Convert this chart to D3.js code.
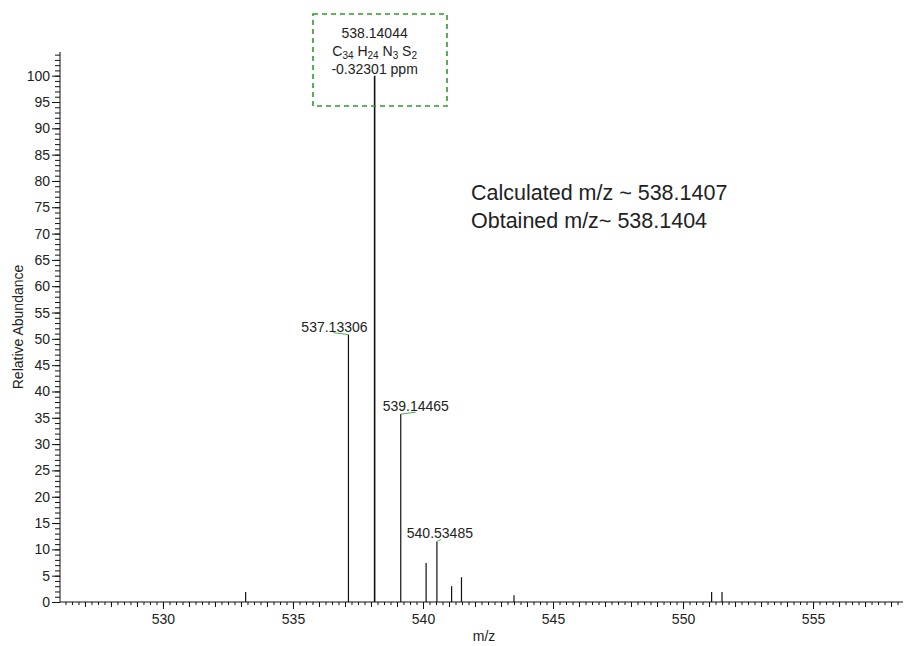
<!DOCTYPE html>
<html>
<head>
<meta charset="utf-8">
<script src="https://cdn.jsdelivr.net/npm/d3@7"></script>
<style>
  body { margin: 0; background: #fff; }
  text { font-family: "Liberation Sans", Arial, sans-serif; fill: #222; }
</style>
</head>
<body>
<div id="chart"></div>
<script>
// peak list
const mzValues = [533.18, 537.133, 538.14, 539.145, 540.12, 540.535, 541.10, 541.48, 543.50, 551.10, 551.50];
const abundance = [1.9, 50.8, 100, 35.7, 7.4, 11.5, 3.0, 4.7, 1.3, 1.9, 1.9];

// labelled peaks
const labelMz = [537.133, 539.145, 540.535];
const labelText = ["537.13306", "539.14465", "540.53485"];
const labelAb = [50.8, 35.7, 11.5];

const xTicks = [530, 535, 540, 545, 550, 555];
const yTicks = d3.range(0, 101, 5);

const width = 904, height = 646;
const svg = d3.select("#chart").append("svg")
  .attr("width", width)
  .attr("height", height);

const x = d3.scaleLinear().domain([526.04, 558.46]).range([60, 903]);
const y = d3.scaleLinear().domain([0, 104.5]).range([602, 52]);

// y axis: minor every 1, major every 5
svg.append("g").attr("transform", "translate(60,0)")
  .call(d3.axisLeft(y).tickValues(d3.range(0, 105, 1)).tickSize(5).tickFormat(""))
  .call(g => g.select(".domain").attr("d", `M0,${y(0)}V52`));
svg.append("g").attr("transform", "translate(60,0)")
  .call(d3.axisLeft(y).tickValues(yTicks).tickSize(8).tickPadding(2))
  .attr("font-size", 14)
  .call(g => g.select(".domain").remove())
  .call(g => g.selectAll("text").attr("fill", "#222"));

// x axis: minor every 0.25, medium every 1, labels every 5
svg.append("g").attr("transform", `translate(0,${y(0)})`)
  .call(d3.axisBottom(x).tickValues(d3.range(526.25, 558.46, 0.25)).tickSize(3).tickFormat(""))
  .call(g => g.select(".domain").attr("d", `M60,0H903`));
svg.append("g").attr("transform", `translate(0,${y(0)})`)
  .call(d3.axisBottom(x).tickValues(d3.range(527, 559, 1)).tickSize(5).tickFormat(""))
  .call(g => g.select(".domain").remove());
svg.append("g").attr("transform", `translate(0,${y(0)})`)
  .call(d3.axisBottom(x).tickValues(xTicks).tickSize(7).tickPadding(5).tickFormat(d3.format("d")))
  .attr("font-size", 14)
  .call(g => g.select(".domain").remove())
  .call(g => g.selectAll("text").attr("fill", "#222"));

svg.selectAll(".tick line, .domain").attr("stroke", "#111");

// sticks
svg.selectAll(".peak")
  .data(mzValues.map((m, i) => ({ m, a: abundance[i] })))
  .join("line")
  .attr("class", "peak")
  .attr("x1", d => x(d.m)).attr("x2", d => x(d.m))
  .attr("y1", y(0)).attr("y2", d => y(d.a))
  .attr("stroke", "#111")
  .attr("stroke-width", d => d.a === 100 ? 1.6 : 1.2);

// peak labels with little green leader
const labelDx = [-14, 15, 3];
const leadDx = [-15, 15, 4];
labelMz.forEach((m, i) => {
  const px = x(m), py = y(labelAb[i]);
  svg.append("path")
    .attr("d", `M${px},${py}L${px + leadDx[i]},${py - 2}`)
    .attr("stroke", "#4caf50").attr("fill", "none").attr("stroke-width", 1);
  svg.append("text")
    .attr("x", px + labelDx[i]).attr("y", py - 3)
    .attr("text-anchor", "middle")
    .attr("font-size", 14)
    .text(labelText[i]);
});

// base peak annotation box
svg.append("rect")
  .attr("x", 313).attr("y", 14).attr("width", 134).attr("height", 92)
  .attr("fill", "none").attr("stroke", "#2e9b2e")
  .attr("stroke-width", 1.6).attr("stroke-dasharray", "5,4");

const cx = x(538.14);
svg.append("text").attr("x", cx).attr("y", 38).attr("text-anchor", "middle")
  .attr("font-size", 14).text("538.14044");
const formula = svg.append("text").attr("x", cx).attr("y", 56).attr("text-anchor", "middle")
  .attr("font-size", 14);
[["C", "34"], ["H", "24"], ["N", "3"], ["S", "2"]].forEach(([el, n], i) => {
  formula.append("tspan").attr("dy", i === 0 ? 0 : -3).text((i === 0 ? "" : " ") + el);
  formula.append("tspan").attr("dy", 3).attr("font-size", 10).text(n);
});
svg.append("text").attr("x", cx).attr("y", 74).attr("text-anchor", "middle")
  .attr("font-size", 14).text("-0.32301 ppm");

// notes
svg.append("text").attr("x", 471).attr("y", 200).attr("font-size", 21.5).attr("fill", "#111")
  .text("Calculated m/z ~ 538.1407");
svg.append("text").attr("x", 471).attr("y", 228).attr("font-size", 21.5).attr("fill", "#111")
  .text("Obtained m/z~ 538.1404");

// axis titles
svg.append("text").attr("transform", "translate(23,327) rotate(-90)")
  .attr("text-anchor", "middle").attr("font-size", 14).text("Relative Abundance");
svg.append("text").attr("x", 484).attr("y", 641).attr("text-anchor", "middle")
  .attr("font-size", 14).text("m/z");
</script>
</body>
</html>
